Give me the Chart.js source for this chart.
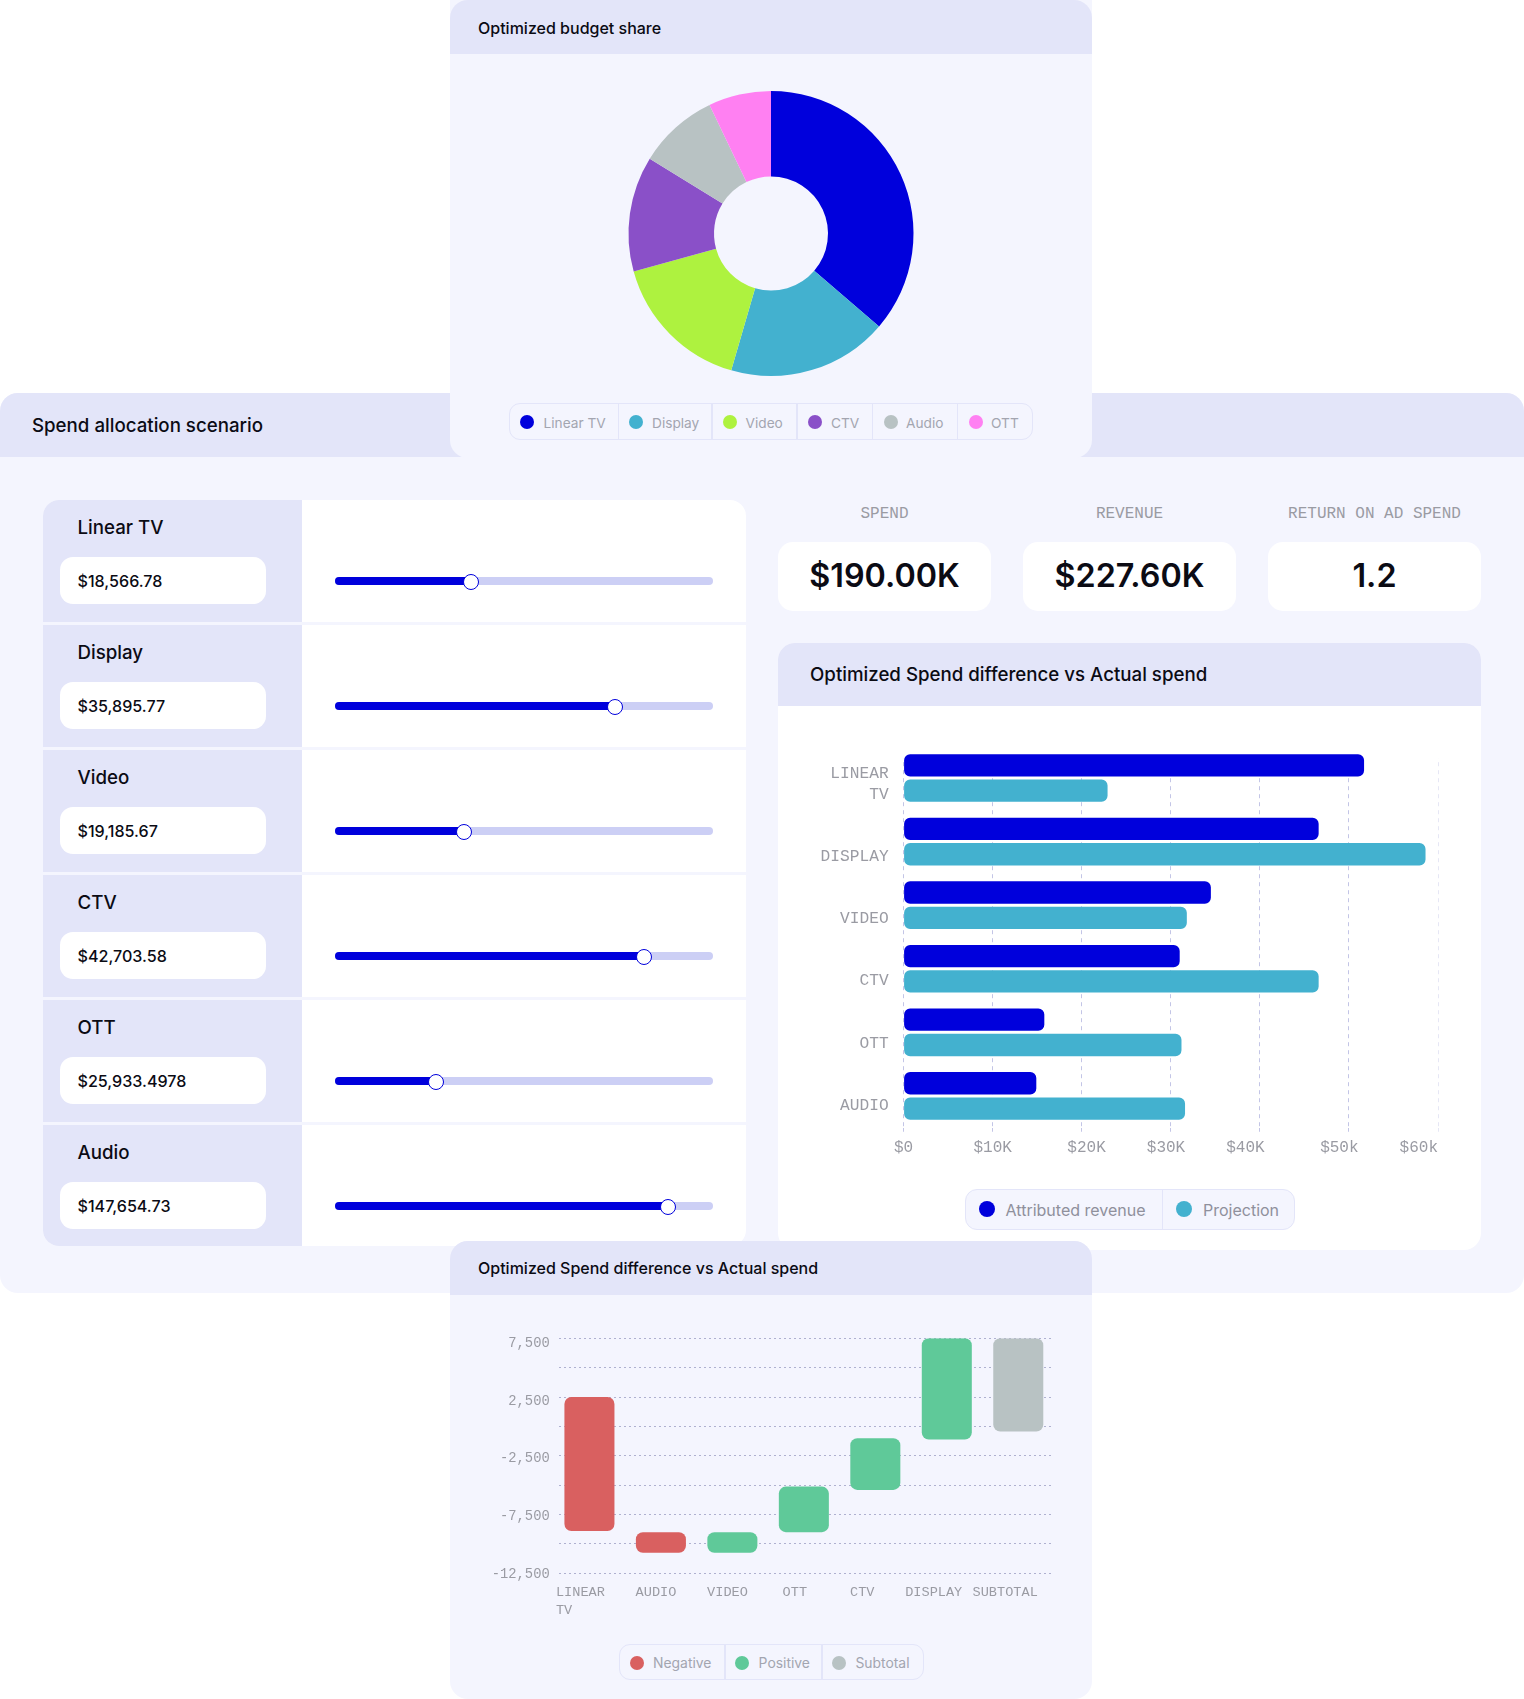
<!DOCTYPE html>
<html><head><meta charset="utf-8">
<script src="https://cdn.jsdelivr.net/npm/chart.js@4"></script>
<style>
html,body{margin:0;padding:0;background:#fff}
#page{position:relative;width:1524px;height:1699px;overflow:hidden;background:#fff;font-family:Inter,sans-serif}
#page div{position:absolute;box-sizing:border-box}
#page canvas{position:absolute}
.t{white-space:pre;line-height:1}
</style></head><body><div id="page"></div>
<script>
// ---------- data ----------
const shareLabels = ['Linear TV','Display','Video','CTV','Audio','OTT'];
const shareValues = [36.3,18.2,16.2,13.1,9.1,7.1];
const shareColors = ['#0000DC','#43B1CF','#AEF23F','#8A50C8','#B8C2C3','#FF80F2'];

const channelNames = ['Linear TV','Display','Video','CTV','OTT','Audio'];
const channelAmounts = ['$18,566.78','$35,895.77','$19,185.67','$42,703.58','$25,933.4978','$147,654.73'];
const sliderLevels = [0.361,0.74,0.34,0.818,0.266,0.88];

const kpiLabels = ['SPEND','REVENUE','RETURN ON AD SPEND'];
const kpiValues = ['$190.00K','$227.60K','1.2'];

const barCategories = ['LINEAR TV','DISPLAY','VIDEO','CTV','OTT','AUDIO'];
const attributedRevenue = [51700,46600,34500,31000,15800,14900];
const projection = [22900,58600,31800,46600,31200,31600];
const barTickLabels = ['$0','$10K','$20K','$30K','$40K','$50k','$60k'];
const barYLabels = [['LINEAR','TV'],'DISPLAY','VIDEO','CTV','OTT','AUDIO'];

const wfCategories = [['LINEAR','TV    '],' AUDIO',' VIDEO','OTT','CTV ','DISPLAY ','SUBTOTAL '];
const wfNegative = [[-8900,2500],[-10750,-9000],null,null,null,null,null];
const wfPositive = [null,null,[-10750,-9000],[-9000,-5120],[-5400,-1000],[-1120,7500],null];
const wfSubtotal = [null,null,null,null,null,null,[-440,7500]];
const wfTickLabels = ['7,500','2,500','-2,500','-7,500','-12,500'];

// ---------- palette ----------
const HEAD='#E3E5F9', PANEL='#F4F5FE', BLUE='#0000DC', TEAL='#43B1CF', RED='#D96060', GREEN='#5FC999', GREY='#B8C2C3';
const MONO='"Liberation Mono",monospace';
const page=document.getElementById('page');
function box(x,y,w,h,css,parent){const d=document.createElement('div');d.style.cssText=`left:${x}px;top:${y}px;width:${w}px;height:${h}px;${css||''}`;(parent||page).appendChild(d);return d;}
function txt(x,cy,s,size,weight,color,align,font,parent){const d=document.createElement('div');d.className='t';d.textContent=s;
 const tx=align==='center'?'-50%':'0';
 d.style.cssText=`left:${x}px;top:${cy}px;transform:translate(${tx},-50%);font-size:${size}px;font-weight:${weight};color:${color};${font?`font-family:${font};`:''}`;(parent||page).appendChild(d);return d;}
function canvas(x,y,w,h){const c=document.createElement('canvas');c.width=w;c.height=h;c.style.cssText=`left:${x}px;top:${y}px;width:${w}px;height:${h}px`;page.appendChild(c);return c;}

// main panel
box(0,393,1524,900,`background:${PANEL};border-radius:18px`);
box(0,393,1524,64,`background:${HEAD};border-radius:18px 18px 0 0`);
txt(32,425.6,'Spend allocation scenario',18.7,500,'#0b0b14');

// slider card
const card=box(43,500,703,746,'background:#fff;border-radius:16px;overflow:hidden');
channelNames.forEach((n,i)=>{
 const top=125*i;
 box(0,top,259,i<5?122:121,`background:${HEAD}`,card);
 if(i<5) box(0,top+122,703,3,`background:${PANEL}`,card);
 txt(34.5,top+28,n,18.7,500,'#0b0b14',null,null,card);
 box(17,top+57,206,47,'background:#fff;border-radius:13px',card);
 txt(34.5,top+81,channelAmounts[i],16.1,500,'#0b0b14',null,null,card);
 const tl=292,tw=378,f=sliderLevels[i];
 box(tl,top+77,tw,8,'background:#CCCFF5;border-radius:4px',card);
 box(tl,top+77,tw*f,8,`background:${BLUE};border-radius:4px`,card);
 box(tl+tw*f-8,top+73.5,16,16,`background:#fff;border:1.6px solid ${BLUE};border-radius:50%`,card);
});

// KPIs
[[778,884.5],[1023,1129.5],[1268,1374.5]].forEach(([x,c],i)=>{
 txt(c,514,kpiLabels[i],16,400,'#9a9ba3','center',MONO);
 box(x,542,213,69,'background:#fff;border-radius:15px');
 txt(c,575.5,kpiValues[i],32.3,600,'#0b0b14','center');
});

// bar card
box(778,643,703,607,'background:#fff;border-radius:17px;overflow:hidden');
box(778,643,703,63,`background:${HEAD};border-radius:17px 17px 0 0`);
txt(810,674.5,'Optimized Spend difference vs Actual spend',18.7,500,'#0b0b14');
const barCv=canvas(778,706,703,480);
box(964.7,1189,330,41,`background:${PANEL};border:1px solid ${HEAD};border-radius:12px`);
box(1161.5,1190,1.5,39,`background:${HEAD}`);
[[987,1005.6,'Attributed revenue',BLUE],[1184,1203,'Projection',TEAL]].forEach(([d,x,s,c])=>{
 box(d-8,1201,16,16,`background:${c};border-radius:50%`);
 txt(x,1209.5,s,16,400,'#8f909c');
});

// top pie card
box(450,0,642,458,`background:${PANEL};border-radius:0 0 18px 18px`);
box(450,0,642,54,`background:${HEAD};border-radius:18px 18px 0 0`);
txt(478,28,'Optimized budget share',16,500,'#0b0b14');
const pieCv=canvas(450,54,642,340);
box(509,403,524,37,`border:1px solid ${HEAD};border-radius:11px`);
[617.5,711,796,871.5,956.5].forEach(x=>box(x,404,1.5,35,`background:${HEAD}`));
const pieDot=[527,636,730,815,891,975.5], pieTxt=[543.5,652,745.5,831,906,991];
shareLabels.forEach((s,i)=>{
 box(pieDot[i]-7,415,14,14,`background:${shareColors[i]};border-radius:50%`);
 txt(pieTxt[i],423.5,s,13.7,400,'#a3a5b0');
});

// bottom waterfall card
box(450,1241,642,458,`background:${PANEL};border-radius:18px`);
box(450,1241,642,54,`background:${HEAD};border-radius:18px 18px 0 0`);
txt(478,1268,'Optimized Spend difference vs Actual spend',16,500,'#0b0b14');
const wfCv=canvas(450,1295,642,340);
box(618.5,1644,305,36,`border:1px solid ${HEAD};border-radius:11px`);
[724,821].forEach(x=>box(x,1645,1.5,34,`background:${HEAD}`));
[[636.5,653,'Negative',RED],[742,758.6,'Positive',GREEN],[839,855.4,'Subtotal',GREY]].forEach(([d,x,s,c])=>{
 box(d-7,1655.5,14,14,`background:${c};border-radius:50%`);
 txt(x,1664,s,13.9,400,'#a3a5b0');
});

// ---------- charts ----------
Chart.defaults.animation=false;
Chart.defaults.responsive=false;
Chart.defaults.plugins.legend.display=false;
Chart.defaults.plugins.tooltip.enabled=false;

new Chart(pieCv,{type:'doughnut',
 data:{labels:shareLabels,datasets:[{data:shareValues,backgroundColor:shareColors,borderWidth:0}]},
 options:{cutout:'40%',layout:{padding:{top:37,bottom:18,left:0,right:0}}}
});

// text padding that nudges the value labels off their grid lines, as in the picture
const barTickPad=[['',''],['',''],[' ',''],['',' '],['','   '],['','  '],['','    ']];
new Chart(barCv,{type:'bar',
 data:{labels:barCategories,datasets:[
  {label:'Attributed revenue',data:attributedRevenue,backgroundColor:BLUE},
  {label:'Projection',data:projection,backgroundColor:TEAL}]},
 options:{indexAxis:'y',
  layout:{padding:{top:40.2,right:43,left:0,bottom:0}},
  datasets:{bar:{categoryPercentage:0.797,barPercentage:0.881,borderRadius:6,borderSkipped:false}},
  scales:{
   x:{min:0,max:60000,
    afterFit:s=>{s.height=58.3;s.paddingRight=0;s.paddingLeft=0},
    afterBuildTicks:s=>{s.ticks=barTickLabels.map((_,i)=>({value:i*10000}))},
    border:{display:false,dash:[4,4]},
    grid:{color:c=>c.index===6?'#E6E7F5':'#C3C5E6',lineWidth:1,tickLength:4,tickBorderDash:[4,4],tickColor:c=>c.index===6?'#E6E7F5':'#C3C5E6'},
    ticks:{font:{family:MONO,size:16},color:'#9a9ba3',padding:6,maxRotation:0,autoSkip:false,
     callback:(v,i)=>barTickPad[i][0]+barTickLabels[i]+barTickPad[i][1]}},
   y:{position:'left',border:{display:false},grid:{display:false,drawTicks:false},ticks:{display:false},afterFit:s=>{s.width=0}},
   // label axis: the picture spaces its category labels a little tighter than the bars
   yLabels:{type:'linear',offset:false,position:'left',reverse:true,min:-0.776,max:5.357,
    afterBuildTicks:s=>{s.ticks=[-0.166,1,2,3,4,5].map(v=>({value:v}))},
    afterFit:s=>{s.width=125.6},
    border:{display:false},grid:{display:false,offset:false,drawTicks:false},
    ticks:{font:{family:MONO,size:16.2,lineHeight:1.3},color:'#9a9ba3',padding:15,autoSkip:false,
     callback:(v,i)=>barYLabels[i]}}
  }},
 plugins:[{id:'trimGrid',beforeDatasetsDraw(ch){const a=ch.chartArea,g=ch.ctx;g.save();g.fillStyle='#fff';g.fillRect(a.left-2,a.top-1,a.width+4,13.5);g.restore();}}]
});

new Chart(wfCv,{type:'bar',
 data:{labels:wfCategories,datasets:[
  {label:'Negative',data:wfNegative,backgroundColor:RED},
  {label:'Positive',data:wfPositive,backgroundColor:GREEN},
  {label:'Subtotal',data:wfSubtotal,backgroundColor:GREY}]},
 options:{
  layout:{padding:{top:43.3,right:38,left:0,bottom:0}},
  datasets:{bar:{grouped:false,categoryPercentage:1,barPercentage:0.7,borderRadius:7,borderSkipped:false}},
  scales:{
   y:{min:-12500,max:7500,position:'left',
    afterFit:s=>{s.width=0},
    afterBuildTicks:s=>{const t=[];for(let v=7500;v>=-12500;v-=2500)t.push({value:v});s.ticks=t;},
    border:{display:false,dash:[2,3]},
    grid:{color:'#AFB1D0',lineWidth:1,drawTicks:false},
    ticks:{display:false}},
   // label axis: the picture spaces its value labels a little tighter than the grid lines
   yLabels:{type:'linear',position:'left',reverse:true,min:-0.0866,max:3.9862,
    afterBuildTicks:s=>{s.ticks=wfTickLabels.map((_,i)=>({value:i}))},
    afterFit:s=>{s.width=103.7},
    border:{display:false},grid:{display:false,drawTicks:false},
    ticks:{font:{family:MONO,size:13.8},color:'#9a9ba3',padding:4,autoSkip:false,
     callback:(v,i)=>wfTickLabels[i]}},
   x:{
    afterFit:s=>{s.height=340-43.3-235},
    border:{display:false},grid:{display:false,drawTicks:false},
    ticks:{font:{family:MONO,size:13.6,lineHeight:1.32},color:'#9a9ba3',padding:10,labelOffset:-9,maxRotation:0,autoSkip:false}}
  }},
 plugins:[{id:'trimGrid',beforeDatasetsDraw(ch){const a=ch.chartArea,g=ch.ctx;g.save();g.fillStyle=PANEL;g.fillRect(a.left-1,a.top-2,4.3,a.height+4);g.fillRect(a.right-2.5,a.top-2,3.5,a.height+4);g.restore();}}]
});
</script></body></html>
